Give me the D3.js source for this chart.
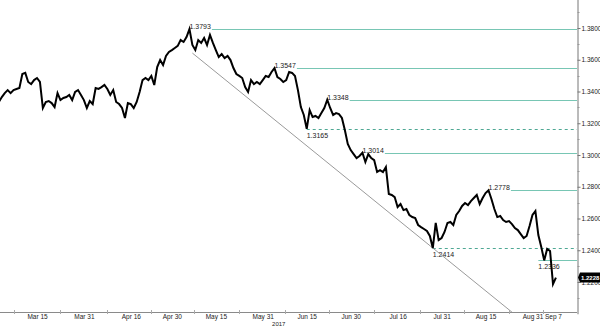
<!DOCTYPE html>
<html>
<head>
<meta charset="utf-8">
<script src="https://cdn.jsdelivr.net/npm/d3@7"></script>
<style>
    html, body { margin: 0; padding: 0; background: #fff; }
    svg { display: block; font-family: "Liberation Sans", Arial, sans-serif; }
</style>
</head>
<body>
<div class="viewport"></div>
<script>

// one close per calendar day, starting 2 Mar 2017
var startDay = "2017-03-02";

var closes = [
    1.3334, 1.3365, 1.3390, 1.3409, 1.3390, 1.3409, 1.3416, 1.3422, 1.3510, 1.3517,
    1.3460, 1.3447, 1.3472, 1.3485, 1.3460, 1.3296, 1.3334, 1.3340, 1.3327, 1.3302,
    1.3390, 1.3346, 1.3359, 1.3365, 1.3378, 1.3346, 1.3397, 1.3409, 1.3378, 1.3346,
    1.3296, 1.3340, 1.3321, 1.3422, 1.3416, 1.3428, 1.3441, 1.3416, 1.3378, 1.3409,
    1.3334, 1.3321, 1.3296, 1.3233, 1.3327, 1.3321, 1.3296, 1.3334, 1.3397, 1.3472,
    1.3485, 1.3472, 1.3498, 1.3441, 1.3554, 1.3598, 1.3567, 1.3624, 1.3649, 1.3661,
    1.3674, 1.3687, 1.3724, 1.3712, 1.3743, 1.3793, 1.3693, 1.3661, 1.3724, 1.3706,
    1.3737, 1.3693, 1.3756, 1.3706, 1.3661, 1.3617, 1.3636, 1.3611, 1.3624, 1.3598,
    1.3548, 1.3510, 1.3498, 1.3485, 1.3428, 1.3397, 1.3472, 1.3447, 1.3460, 1.3447,
    1.3472, 1.3498, 1.3491, 1.3523, 1.3547, 1.3491, 1.3479, 1.3460, 1.3472, 1.3523,
    1.3517, 1.3498, 1.3409, 1.3302, 1.3252, 1.3165, 1.3283, 1.3239, 1.3246, 1.3233,
    1.3264, 1.3296, 1.3348, 1.3296, 1.3252, 1.3264, 1.3258, 1.3233, 1.3157, 1.3069,
    1.3031, 1.3006, 1.2981, 1.2994, 1.3014, 1.2956, 1.3006, 1.2981, 1.2968, 1.2893,
    1.2905, 1.2893, 1.2924, 1.2754, 1.2748, 1.2735, 1.2672, 1.2691, 1.2653, 1.2660,
    1.2622, 1.2609, 1.2603, 1.2559, 1.2546, 1.2534, 1.2521, 1.2490, 1.2414, 1.2572,
    1.2464, 1.2477, 1.2515, 1.2572, 1.2578, 1.2559, 1.2622, 1.2647, 1.2679, 1.2698,
    1.2685, 1.2710, 1.2729, 1.2748, 1.2691, 1.2729, 1.2760, 1.2778, 1.2723, 1.2660,
    1.2609, 1.2616, 1.2590, 1.2578, 1.2584, 1.2565, 1.2540, 1.2527, 1.2502, 1.2477,
    1.2490, 1.2553, 1.2622, 1.2647, 1.2496, 1.2420, 1.2336, 1.2408, 1.2395, 1.2187,
    1.2228
];

// marked highs and lows, with the day each marker starts
var levelValues = [1.3793, 1.3547, 1.3348, 1.3165, 1.3014, 1.2778, 1.2414, 1.2336];
var levelDays = ["2017-05-06", "2017-06-04", "2017-06-22", "2017-06-15",
                 "2017-07-04", "2017-08-16", "2017-07-28", "2017-09-02"];
var levelIsHigh = [true, true, true, false, true, true, false, false];
var dashedLevels = [1.3165, 1.2414];

// falling trendline
var trendDays = ["2017-05-07", "2017-08-24"];
var trendValues = [1.3642, 1.2010];

var xTickDays = ["2017-03-15", "2017-03-31", "2017-04-16", "2017-04-30", "2017-05-15",
                 "2017-05-31", "2017-06-15", "2017-06-30", "2017-07-16", "2017-07-31",
                 "2017-08-15", "2017-08-31", "2017-09-07"];
var xTickLabels = ["Mar 15", "Mar 31", "Apr 16", "Apr 30", "May 15", "May 31", "Jun 15",
                   "Jun 30", "Jul 16", "Jul 31", "Aug 15", "Aug 31", "Sep 7"];
var yearLabel = "2017";
var yTicks = [1.22, 1.24, 1.26, 1.28, 1.30, 1.32, 1.34, 1.36, 1.38];
var lastValue = 1.2228;

function letsGo() {

    var width = 600,
        height = 326,
        axisX = 577,
        axisY = 312;

    var parse = d3.timeParse("%Y-%m-%d");

    var x = d3.scaleTime()
        .domain([parse("2017-03-15"), parse("2017-09-07")])
        .range([37, 553]);

    var y = d3.scaleLinear()
        .domain([1.20, 1.40])
        .range([313.75, -3.75]);

    var day0 = parse(startDay);
    var series = closes.map(function (v, i) {
        return { date: d3.timeDay.offset(day0, i), value: v };
    });

    var svg = d3.select(".viewport").append("svg")
        .attr("width", width)
        .attr("height", height);

    svg.append("defs").append("clipPath").attr("id", "plot")
        .append("rect").attr("x", 0).attr("y", 0).attr("width", axisX).attr("height", axisY);

    // level lines + labels
    var levels = svg.append("g").attr("class", "levels");

    levelValues.forEach(function (v, i) {
        var lx = x(parse(levelDays[i])),
            ly = Math.round(y(v)) + 0.5,
            dashed = dashedLevels.indexOf(v) >= 0;

        var label = levels.append("text")
            .attr("x", lx)
            .attr("y", levelIsHigh[i] ? ly - 1 : ly + 8)
            .attr("font-size", 7)
            .attr("fill", "#222")
            .text(d3.format(".4f")(v));

        var start = levelIsHigh[i] ? lx + label.node().getComputedTextLength() + 1 : lx;

        levels.append("line")
            .attr("x1", start)
            .attr("x2", axisX)
            .attr("y1", ly)
            .attr("y2", ly)
            .attr("stroke", dashed ? "#4fa894" : "#78c6b4")
            .attr("stroke-width", 1)
            .attr("stroke-dasharray", dashed ? "3,3" : null);
    });

    // trendline
    svg.append("line")
        .attr("x1", x(parse(trendDays[0])))
        .attr("y1", y(trendValues[0]))
        .attr("x2", x(parse(trendDays[1])))
        .attr("y2", y(trendValues[1]))
        .attr("stroke", "#9a9a9a")
        .attr("stroke-width", 1);

    // price
    var line = d3.line()
        .x(function (d) { return x(d.date); })
        .y(function (d) { return y(d.value); });

    svg.append("path")
        .datum(series)
        .attr("clip-path", "url(#plot)")
        .attr("fill", "none")
        .attr("stroke", "#000")
        .attr("stroke-width", 2)
        .attr("stroke-linejoin", "miter")
        .attr("d", line);

    // x axis
    var xAxis = d3.axisBottom(x)
        .tickValues(xTickDays.map(parse))
        .tickFormat(function (d, i) { return xTickLabels[i]; })
        .tickSize(0)
        .tickPadding(2);

    var gx = svg.append("g")
        .attr("transform", "translate(0," + axisY + ")")
        .call(xAxis);
    gx.select(".domain").remove();
    gx.selectAll("text")
        .attr("font-family", "Liberation Sans, Arial, sans-serif")
        .attr("font-size", 6.5)
        .attr("fill", "#222");

    svg.append("line")
        .attr("x1", 0).attr("x2", axisX)
        .attr("y1", axisY + 0.5).attr("y2", axisY + 0.5)
        .attr("stroke", "#8a8a8a");

    // small marks between the date labels
    var tickDates = xTickDays.map(parse);
    var marks = d3.pairs(tickDates).map(function (p) {
        return (x(p[0]) + x(p[1])) / 2;
    });
    marks.unshift(x(tickDates[0]) - (marks[0] - x(tickDates[0])));
    svg.append("g").selectAll("line")
        .data(marks)
        .enter().append("line")
        .attr("x1", function (d) { return Math.round(d) + 0.5; })
        .attr("x2", function (d) { return Math.round(d) + 0.5; })
        .attr("y1", axisY - 2)
        .attr("y2", axisY + 2)
        .attr("stroke", "#aaa");

    svg.append("text")
        .attr("x", x(parse(xTickDays[5])) + 16)
        .attr("y", 325.5)
        .attr("text-anchor", "middle")
        .attr("font-size", 6)
        .attr("fill", "#222")
        .text(yearLabel);

    // y axis on the right
    var yAxis = d3.axisRight(y)
        .tickValues(yTicks)
        .tickFormat(d3.format(".4f"))
        .tickSize(3)
        .tickSizeOuter(0)
        .tickPadding(1);

    var gy = svg.append("g")
        .attr("transform", "translate(" + (axisX + 0.5) + ",0)")
        .call(yAxis);
    gy.select(".domain").attr("stroke", "#777");
    gy.selectAll(".tick line").attr("stroke", "#777");
    gy.selectAll("text")
        .attr("font-family", "Liberation Sans, Arial, sans-serif")
        .attr("font-size", 6.5)
        .attr("fill", "#222");

    // minor ticks
    var minor = d3.range(1.21, 1.40, 0.02);
    gy.append("g").selectAll("line")
        .data(minor)
        .enter().append("line")
        .attr("x1", 0).attr("x2", 2)
        .attr("y1", function (d) { return Math.round(y(d)) + 0.5; })
        .attr("y2", function (d) { return Math.round(y(d)) + 0.5; })
        .attr("stroke", "#999");

    // last value tag
    var ty = y(lastValue);
    var tag = svg.append("g").attr("transform", "translate(" + (axisX + 1) + "," + ty + ")");
    tag.append("path")
        .attr("d", "M0,0 L2,-5 L22.5,-5 L22.5,5 L2,5 Z")
        .attr("fill", "#000");
    tag.append("text")
        .attr("x", 3)
        .attr("y", 2.2)
        .attr("font-size", 6)
        .attr("font-weight", "bold")
        .attr("fill", "#fff")
        .text(d3.format(".4f")(lastValue));
}

letsGo();
</script>
</body>
</html>
